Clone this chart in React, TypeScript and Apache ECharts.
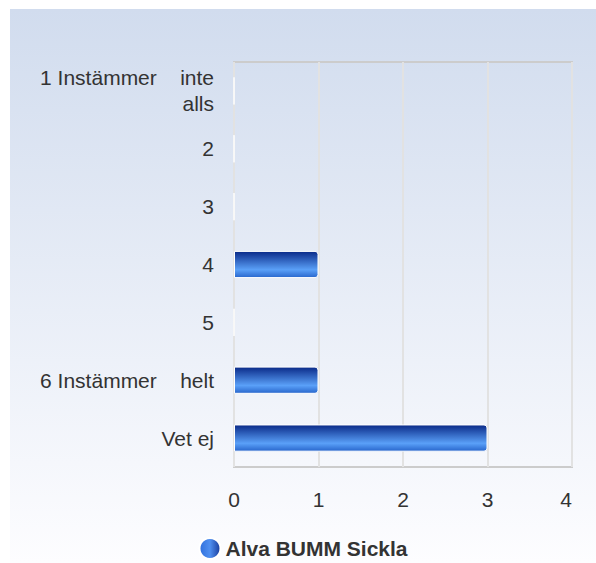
import React, { useEffect, useRef } from "react";
import * as echarts from "echarts";

const categories = [
  "1 Instämmer    inte\nalls",
  "2",
  "3",
  "4",
  "5",
  "6 Instämmer    helt",
  "Vet ej",
];
const seriesName = "Alva BUMM Sickla";
const values = [0, 0, 0, 1, 0, 1, 3];
const xMin = 0;
const xMax = 4;
const xInterval = 1;

const FONT = "'Liberation Sans', Arial, sans-serif";

export default function App() {
  const ref = useRef<HTMLDivElement>(null);
  useEffect(() => {
    if (!ref.current) return;
    const chart = echarts.init(ref.current, null, { renderer: "svg" });
    chart.setOption({
      animation: false,
      backgroundColor: new echarts.graphic.LinearGradient(0, 0, 0, 1, [
        { offset: 0, color: "#d1dcee" },
        { offset: 1, color: "#fdfdff" },
      ]),
      textStyle: { fontFamily: FONT },
      grid: {
        left: 224,
        top: 53,
        right: 24,
        bottom: 96,
        show: true,
        borderColor: "#cccccc",
        borderWidth: 2,
        backgroundColor: "transparent",
      },
      legend: {
        bottom: -2,
        left: "center",
        icon: "circle",
        itemWidth: 21,
        itemHeight: 21,
        itemGap: 8,
        textStyle: { fontSize: 21, fontWeight: "bold", color: "#333", fontFamily: FONT },
        data: [
          {
            name: seriesName,
            itemStyle: {
              color: new echarts.graphic.LinearGradient(0, 0, 1, 0, [
                { offset: 0, color: "#2f6fdc" },
                { offset: 0.5, color: "#4f8ff0" },
                { offset: 1, color: "#173a9a" },
              ]),
            },
          },
        ],
      },
      xAxis: {
        type: "value",
        min: xMin,
        max: xMax,
        interval: xInterval,
        axisLine: { show: false },
        axisTick: { show: false },
        axisLabel: {
          color: "#333",
          fontSize: 21,
          margin: 22,
          fontFamily: FONT,
          alignMaxLabel: "right",
        },
        splitLine: { show: true, lineStyle: { color: "#e2e2e2", width: 2 } },
      },
      yAxis: {
        type: "category",
        inverse: true,
        data: categories,
        axisLine: { show: false },
        axisTick: { show: false },
        axisLabel: {
          color: "#333",
          fontSize: 21,
          margin: 20,
          lineHeight: 26,
          align: "right",
          padding: [4, 0, 0, 0],
          fontFamily: FONT,
        },
        splitLine: { show: false },
      },
      series: [
        {
          name: seriesName,
          type: "bar",
          data: values,
          barWidth: "47%",
          itemStyle: {
            color: new echarts.graphic.LinearGradient(0, 0, 0, 1, [
              { offset: 0, color: "#0a2a88" },
              { offset: 0.7, color: "#5aa0f8" },
              { offset: 1, color: "#2866cc" },
            ]),
            borderColor: "#ffffff",
            borderWidth: 1,
            borderRadius: [0, 3, 3, 0],
          },
        },
      ],
    });
    return () => chart.dispose();
  }, []);
  return (
    <div
      ref={ref}
      style={{ position: "absolute", left: 10, top: 9, width: 586, height: 554 }}
    />
  );
}
